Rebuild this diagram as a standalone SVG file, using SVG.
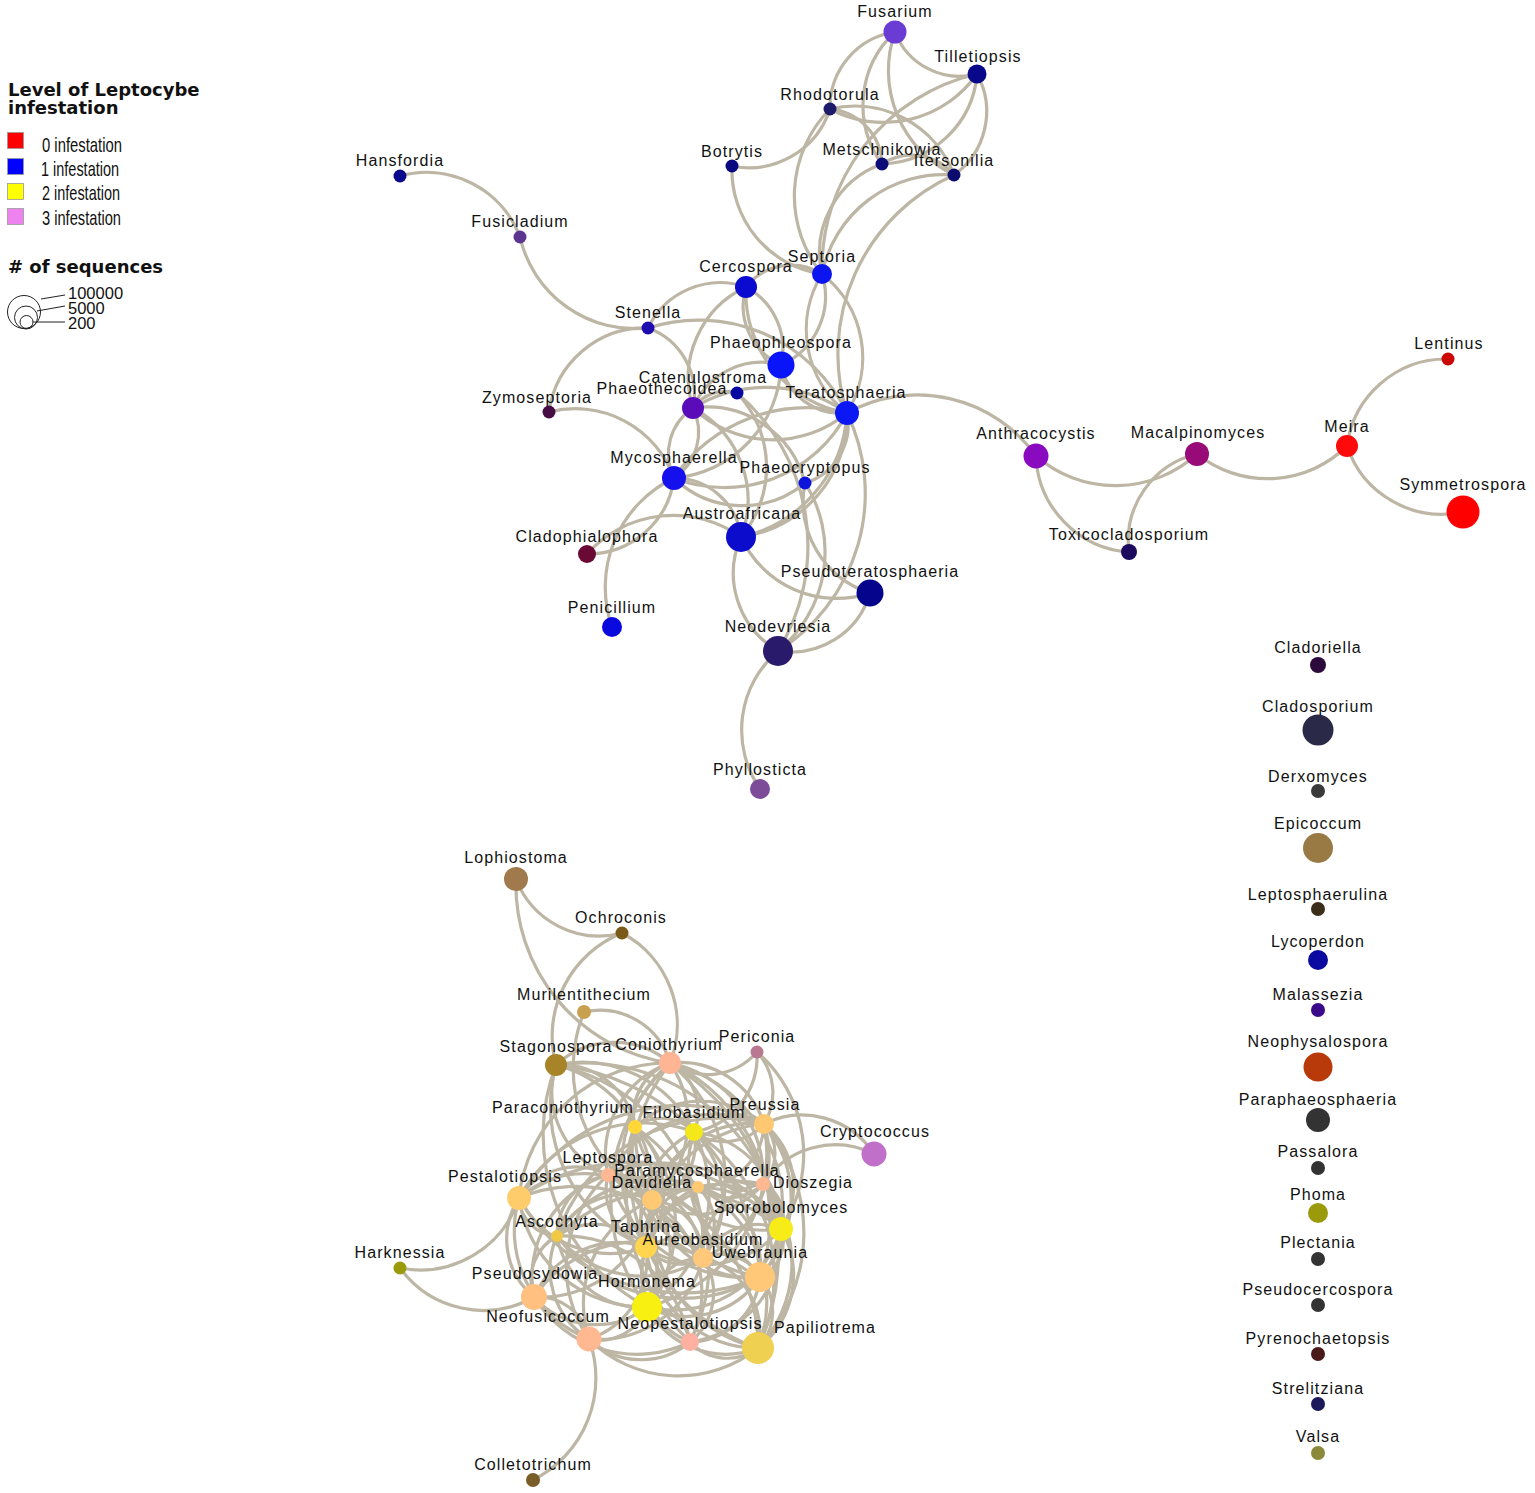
<svg xmlns="http://www.w3.org/2000/svg" width="1535" height="1493" viewBox="0 0 1535 1493">
<style>
.e{fill:none;stroke:#bdb6a4;stroke-width:3.2}
.l{font-family:"Liberation Sans",Arial,sans-serif;font-size:16px;letter-spacing:1.1px;fill:#111;text-anchor:middle}
.h{font-family:"DejaVu Sans",Verdana,sans-serif;font-weight:bold;font-size:18px;fill:#111}
.k{font-family:"Liberation Sans",Arial,sans-serif;font-size:21px;fill:#111}
.s{font-family:"Liberation Sans",Arial,sans-serif;font-size:16.5px;fill:#111}
</style>
<rect width="1535" height="1493" fill="#fff"/>
<g id="legend">
<text class="h" x="8" y="96">Level of Leptocybe</text>
<text class="h" x="8" y="114">infestation</text>
<rect x="7.5" y="132.5" width="16" height="16" fill="#ff0000" stroke="#999" stroke-width="0.8"/>
<rect x="7.5" y="158.5" width="16" height="16" fill="#0000ff" stroke="#999" stroke-width="0.8"/>
<rect x="7.5" y="183.5" width="16" height="16" fill="#ffff00" stroke="#999" stroke-width="0.8"/>
<rect x="7.5" y="208.5" width="16" height="16" fill="#ee82ee" stroke="#999" stroke-width="0.8"/>
<text class="k" x="42" y="152" textLength="80" lengthAdjust="spacingAndGlyphs">0 infestation</text>
<text class="k" x="41" y="176" textLength="78" lengthAdjust="spacingAndGlyphs">1 infestation</text>
<text class="k" x="42" y="200" textLength="78" lengthAdjust="spacingAndGlyphs">2 infestation</text>
<text class="k" x="42" y="225" textLength="79" lengthAdjust="spacingAndGlyphs">3 infestation</text>
<text class="h" x="8" y="273">#  of sequences</text>
<g fill="none" stroke="#222" stroke-width="1">
<circle cx="24" cy="312" r="16.5"/>
<circle cx="26" cy="317.5" r="11.5"/>
<circle cx="26.5" cy="322" r="6.5"/>
<path d="M41 299L65 295M37 311L65 306M33 322L65 322"/>
</g>
<text class="s" x="68" y="299">100000</text>
<text class="s" x="68" y="314">5000</text>
<text class="s" x="68" y="329">200</text>
</g>
<g id="edges" class="e">
<path d="M400 176A100 100 0 0 1 520 237"/>
<path d="M520 237A118 118 0 0 0 648 328"/>
<path d="M648 328A97 97 0 0 0 549 412"/>
<path d="M648 328A80 80 0 0 1 746 287"/>
<path d="M648 328A165 165 0 0 1 847 413"/>
<path d="M648 328A70 70 0 0 1 693 408"/>
<path d="M549 412A105 105 0 0 1 674 478"/>
<path d="M732 166A85 85 0 0 0 830 109"/>
<path d="M732 166A105 105 0 0 0 822 274"/>
<path d="M895 32A76 76 0 0 0 830 109"/>
<path d="M830 109A124 124 0 0 0 822 274"/>
<path d="M895 32A100 100 0 0 0 882 164"/>
<path d="M895 32A116 116 0 0 0 954 175"/>
<path d="M895 32A69 69 0 0 0 977 74"/>
<path d="M830 109A114 114 0 0 0 977 74"/>
<path d="M830 109A106 106 0 0 1 954 175"/>
<path d="M830 109A57 57 0 0 1 882 164"/>
<path d="M977 74A98 98 0 0 1 882 164"/>
<path d="M977 74A78 78 0 0 1 954 175"/>
<path d="M882 164A55 55 0 0 1 954 175"/>
<path d="M882 164A94 94 0 0 0 822 274"/>
<path d="M954 175A124 124 0 0 0 822 274"/>
<path d="M954 175A196 196 0 0 0 847 413"/>
<path d="M977 74A200 200 0 0 0 822 274"/>
<path d="M822 274A58 58 0 0 0 746 287"/>
<path d="M822 274A75 75 0 0 1 781 365"/>
<path d="M822 274A106 106 0 0 1 847 413"/>
<path d="M822 274A106 106 0 0 0 847 413"/>
<path d="M746 287A65 65 0 0 0 781 365"/>
<path d="M746 287A70 70 0 0 1 781 365"/>
<path d="M746 287A122 122 0 0 0 847 413"/>
<path d="M746 287A100 100 0 0 0 693 408"/>
<path d="M781 365A61 61 0 0 0 847 413"/>
<path d="M693 408A74 74 0 0 1 781 365"/>
<path d="M781 365A117 117 0 0 1 674 478"/>
<path d="M737 393A40 40 0 0 0 693 408"/>
<path d="M737 393A108 108 0 0 1 741 537"/>
<path d="M737 393A200 200 0 0 1 778 651"/>
<path d="M693 408A116 116 0 0 0 847 413"/>
<path d="M693 408A140 140 0 0 1 847 413"/>
<path d="M693 408A55 55 0 0 0 674 478"/>
<path d="M693 408A55 55 0 0 1 674 478"/>
<path d="M693 408A104 104 0 0 1 741 537"/>
<path d="M693 408A101 101 0 0 1 805 483"/>
<path d="M674 478A138 138 0 0 0 847 413"/>
<path d="M674 478A160 160 0 0 1 847 413"/>
<path d="M674 478A67 67 0 0 1 741 537"/>
<path d="M674 478A98 98 0 0 0 805 483"/>
<path d="M847 413A122 122 0 0 1 741 537"/>
<path d="M847 413A135 135 0 0 1 741 537"/>
<path d="M847 413A61 61 0 0 1 805 483"/>
<path d="M847 413A146 146 0 0 1 1036 456"/>
<path d="M847 413A186 186 0 0 1 778 651"/>
<path d="M805 483A96 96 0 0 0 870 593"/>
<path d="M805 483A128 128 0 0 1 778 651"/>
<path d="M741 537A105 105 0 0 0 870 593"/>
<path d="M741 537A90 90 0 0 0 778 651"/>
<path d="M778 651A82 82 0 0 0 870 593"/>
<path d="M778 651A104 104 0 0 0 760 789"/>
<path d="M674 478A87 87 0 0 1 587 554"/>
<path d="M674 478A121 121 0 0 0 612 627"/>
<path d="M587 554A116 116 0 0 1 741 537"/>
<path d="M1036 456A121 121 0 0 0 1197 454"/>
<path d="M1036 456A100 100 0 0 0 1129 552"/>
<path d="M1197 454A89 89 0 0 0 1129 552"/>
<path d="M1197 454A113 113 0 0 0 1347 446"/>
<path d="M1347 446A100 100 0 0 1 1448 359"/>
<path d="M1347 446A100 100 0 0 0 1463 512"/>
<path d="M516 879A89 89 0 0 0 622 933"/>
<path d="M516 879A180 180 0 0 0 670 1063"/>
<path d="M622 933A111 111 0 0 0 556 1065"/>
<path d="M622 933A104 104 0 0 1 670 1063"/>
<path d="M584 1012A150 150 0 0 0 652 1200"/>
<path d="M584 1012A73 73 0 0 1 670 1063"/>
<path d="M556 1065A86 86 0 0 1 670 1063"/>
<path d="M670 1063A66 66 0 0 0 757 1052"/>
<path d="M757 1052A60 60 0 0 1 764 1124"/>
<path d="M757 1052A77 77 0 0 1 694 1132"/>
<path d="M764 1124A86 86 0 0 1 874 1154"/>
<path d="M874 1154A86 86 0 0 0 763 1184"/>
<path d="M400 1268A104 104 0 0 0 519 1198"/>
<path d="M400 1268A103 103 0 0 0 534 1297"/>
<path d="M589 1339A114 114 0 0 1 533 1480"/>
<path d="M519 1198A75 75 0 0 0 534 1297"/>
<path d="M670 1063A55 55 0 0 0 635 1127"/>
<path d="M670 1063A55 55 0 0 1 694 1132"/>
<path d="M670 1063A88 88 0 0 1 764 1124"/>
<path d="M670 1063A96 96 0 0 0 608 1175"/>
<path d="M670 1063A104 104 0 0 1 652 1200"/>
<path d="M670 1063A138 138 0 0 0 646 1247"/>
<path d="M670 1063A150 150 0 0 1 703 1258"/>
<path d="M670 1063A183 183 0 0 0 647 1307"/>
<path d="M670 1063A148 148 0 0 1 781 1229"/>
<path d="M670 1063A172 172 0 0 1 760 1277"/>
<path d="M670 1063A150 150 0 0 0 519 1198"/>
<path d="M670 1063A224 224 0 0 1 758 1348"/>
<path d="M670 1063A116 116 0 0 1 763 1184"/>
<path d="M670 1063A210 210 0 0 0 690 1342"/>
<path d="M556 1065A75 75 0 0 1 635 1127"/>
<path d="M556 1065A128 128 0 0 1 652 1200"/>
<path d="M556 1065A152 152 0 0 0 646 1247"/>
<path d="M556 1065A185 185 0 0 1 703 1258"/>
<path d="M556 1065A195 195 0 0 0 647 1307"/>
<path d="M556 1065A90 90 0 0 0 608 1175"/>
<path d="M556 1065A227 227 0 0 1 760 1277"/>
<path d="M556 1065A125 125 0 0 1 694 1132"/>
<path d="M556 1065A200 200 0 0 1 781 1229"/>
<path d="M757 1052A135 135 0 0 1 781 1229"/>
<path d="M635 1127A45 45 0 0 1 694 1132"/>
<path d="M635 1127A98 98 0 0 1 764 1124"/>
<path d="M635 1127A58 58 0 0 0 652 1200"/>
<path d="M635 1127A91 91 0 0 1 646 1247"/>
<path d="M635 1127A115 115 0 0 0 703 1258"/>
<path d="M635 1127A136 136 0 0 1 647 1307"/>
<path d="M635 1127A150 150 0 0 0 760 1277"/>
<path d="M635 1127A188 188 0 0 0 758 1348"/>
<path d="M635 1127A131 131 0 0 0 781 1229"/>
<path d="M635 1127A166 166 0 0 1 690 1342"/>
<path d="M694 1132A53 53 0 0 0 764 1124"/>
<path d="M694 1132A70 70 0 0 1 608 1175"/>
<path d="M694 1132A58 58 0 0 1 652 1200"/>
<path d="M694 1132A94 94 0 0 0 646 1247"/>
<path d="M694 1132A95 95 0 0 1 703 1258"/>
<path d="M694 1132A98 98 0 0 1 781 1229"/>
<path d="M694 1132A118 118 0 0 0 760 1277"/>
<path d="M694 1132A134 134 0 0 1 647 1307"/>
<path d="M694 1132A169 169 0 0 1 758 1348"/>
<path d="M694 1132A65 65 0 0 0 763 1184"/>
<path d="M694 1132A142 142 0 0 0 519 1198"/>
<path d="M764 1124A65 65 0 0 1 698 1187"/>
<path d="M764 1124A104 104 0 0 0 652 1200"/>
<path d="M764 1124A45 45 0 0 1 763 1184"/>
<path d="M764 1124A80 80 0 0 1 781 1229"/>
<path d="M764 1124A115 115 0 0 1 760 1277"/>
<path d="M764 1124A128 128 0 0 0 646 1247"/>
<path d="M764 1124A110 110 0 0 1 703 1258"/>
<path d="M764 1124A158 158 0 0 1 647 1307"/>
<path d="M764 1124A168 168 0 0 1 758 1348"/>
<path d="M764 1124A190 190 0 0 0 519 1198"/>
<path d="M764 1124A125 125 0 0 0 608 1175"/>
<path d="M764 1124A171 171 0 0 0 557 1236"/>
<path d="M608 1175A68 68 0 0 0 519 1198"/>
<path d="M608 1175A40 40 0 0 1 652 1200"/>
<path d="M608 1175A69 69 0 0 1 698 1187"/>
<path d="M608 1175A61 61 0 0 0 646 1247"/>
<path d="M608 1175A93 93 0 0 1 703 1258"/>
<path d="M608 1175A137 137 0 0 1 781 1229"/>
<path d="M608 1175A145 145 0 0 0 760 1277"/>
<path d="M608 1175A102 102 0 0 1 647 1307"/>
<path d="M608 1175A106 106 0 0 0 534 1297"/>
<path d="M608 1175A61 61 0 0 0 557 1236"/>
<path d="M608 1175A124 124 0 0 0 589 1339"/>
<path d="M608 1175A173 173 0 0 1 758 1348"/>
<path d="M519 1198A40 40 0 0 0 557 1236"/>
<path d="M519 1198A100 100 0 0 1 652 1200"/>
<path d="M519 1198A103 103 0 0 0 646 1247"/>
<path d="M519 1198A116 116 0 0 0 589 1339"/>
<path d="M519 1198A126 126 0 0 0 647 1307"/>
<path d="M519 1198A148 148 0 0 1 703 1258"/>
<path d="M519 1198A190 190 0 0 0 760 1277"/>
<path d="M519 1198A198 198 0 0 1 781 1229"/>
<path d="M652 1200A36 36 0 0 1 698 1187"/>
<path d="M652 1200A84 84 0 0 0 763 1184"/>
<path d="M652 1200A99 99 0 0 1 781 1229"/>
<path d="M652 1200A35 35 0 0 0 646 1247"/>
<path d="M652 1200A58 58 0 0 1 703 1258"/>
<path d="M652 1200A102 102 0 0 0 760 1277"/>
<path d="M652 1200A80 80 0 0 1 647 1307"/>
<path d="M652 1200A75 75 0 0 0 557 1236"/>
<path d="M652 1200A112 112 0 0 1 534 1297"/>
<path d="M652 1200A113 113 0 0 0 589 1339"/>
<path d="M652 1200A110 110 0 0 1 690 1342"/>
<path d="M652 1200A137 137 0 0 0 758 1348"/>
<path d="M698 1187A49 49 0 0 0 763 1184"/>
<path d="M698 1187A69 69 0 0 1 781 1229"/>
<path d="M698 1187A57 57 0 0 0 646 1247"/>
<path d="M698 1187A53 53 0 0 1 703 1258"/>
<path d="M698 1187A82 82 0 0 1 760 1277"/>
<path d="M698 1187A98 98 0 0 0 647 1307"/>
<path d="M698 1187A129 129 0 0 1 758 1348"/>
<path d="M698 1187A118 118 0 0 0 557 1236"/>
<path d="M763 1184A36 36 0 0 1 781 1229"/>
<path d="M763 1184A70 70 0 0 1 760 1277"/>
<path d="M763 1184A123 123 0 0 1 758 1348"/>
<path d="M763 1184A70 70 0 0 0 703 1258"/>
<path d="M763 1184A101 101 0 0 0 646 1247"/>
<path d="M781 1229A38 38 0 0 1 760 1277"/>
<path d="M781 1229A62 62 0 0 0 703 1258"/>
<path d="M781 1229A102 102 0 0 1 646 1247"/>
<path d="M781 1229A112 112 0 0 1 647 1307"/>
<path d="M781 1229A92 92 0 0 1 758 1348"/>
<path d="M781 1229A105 105 0 0 1 690 1342"/>
<path d="M781 1229A168 168 0 0 0 557 1236"/>
<path d="M557 1236A68 68 0 0 1 646 1247"/>
<path d="M557 1236A111 111 0 0 0 703 1258"/>
<path d="M557 1236A86 86 0 0 0 647 1307"/>
<path d="M557 1236A50 50 0 0 0 534 1297"/>
<path d="M557 1236A82 82 0 0 0 589 1339"/>
<path d="M557 1236A155 155 0 0 0 760 1277"/>
<path d="M557 1236A128 128 0 0 1 690 1342"/>
<path d="M646 1247A44 44 0 0 0 703 1258"/>
<path d="M646 1247A88 88 0 0 1 760 1277"/>
<path d="M646 1247A45 45 0 0 1 647 1307"/>
<path d="M646 1247A92 92 0 0 0 534 1297"/>
<path d="M646 1247A84 84 0 0 1 589 1339"/>
<path d="M646 1247A76 76 0 0 0 690 1342"/>
<path d="M646 1247A112 112 0 0 0 758 1348"/>
<path d="M703 1258A45 45 0 0 1 760 1277"/>
<path d="M703 1258A56 56 0 0 0 647 1307"/>
<path d="M703 1258A63 63 0 0 1 690 1342"/>
<path d="M703 1258A76 76 0 0 1 758 1348"/>
<path d="M703 1258A129 129 0 0 0 534 1297"/>
<path d="M703 1258A108 108 0 0 1 589 1339"/>
<path d="M760 1277A88 88 0 0 1 647 1307"/>
<path d="M760 1277A53 53 0 0 1 758 1348"/>
<path d="M760 1277A72 72 0 0 1 690 1342"/>
<path d="M534 1297A83 83 0 0 0 647 1307"/>
<path d="M534 1297A52 52 0 0 1 589 1339"/>
<path d="M534 1297A121 121 0 0 0 690 1342"/>
<path d="M647 1307A50 50 0 0 1 589 1339"/>
<path d="M647 1307A42 42 0 0 1 690 1342"/>
<path d="M647 1307A89 89 0 0 0 758 1348"/>
<path d="M589 1339A76 76 0 0 0 690 1342"/>
<path d="M589 1339A127 127 0 0 0 758 1348"/>
<path d="M690 1342A51 51 0 0 0 758 1348"/>
</g>
<g id="n-Fusarium"><circle cx="895" cy="32" r="11.5" fill="#6a3cd4"/><text class="l" x="895" y="17">Fusarium</text></g>
<g id="n-Tilletiopsis"><circle cx="977" cy="74" r="9.5" fill="#08088a"/><text class="l" x="978" y="62">Tilletiopsis</text></g>
<g id="n-Rhodotorula"><circle cx="830" cy="109" r="6.5" fill="#1c1a6a"/><text class="l" x="830" y="100">Rhodotorula</text></g>
<g id="n-Botrytis"><circle cx="732" cy="166" r="6.5" fill="#0a0a80"/><text class="l" x="732" y="157">Botrytis</text></g>
<g id="n-Metschnikowia"><circle cx="882" cy="164" r="6.5" fill="#0c0c78"/><text class="l" x="882" y="155">Metschnikowia</text></g>
<g id="n-Itersonilia"><circle cx="954" cy="175" r="6.5" fill="#0c0c6e"/><text class="l" x="954" y="166">Itersonilia</text></g>
<g id="n-Hansfordia"><circle cx="400" cy="176" r="6.5" fill="#0a0a8c"/><text class="l" x="400" y="166">Hansfordia</text></g>
<g id="n-Fusicladium"><circle cx="520" cy="237" r="6.5" fill="#5c3590"/><text class="l" x="520" y="227">Fusicladium</text></g>
<g id="n-Stenella"><circle cx="648" cy="328" r="6.5" fill="#1e0cb0"/><text class="l" x="648" y="318">Stenella</text></g>
<g id="n-Septoria"><circle cx="822" cy="274" r="10" fill="#0c14f0"/><text class="l" x="822" y="262">Septoria</text></g>
<g id="n-Cercospora"><circle cx="746" cy="287" r="11" fill="#0a0ad0"/><text class="l" x="746" y="272">Cercospora</text></g>
<g id="n-Phaeophleospora"><circle cx="781" cy="365" r="13.5" fill="#0a14f8"/><text class="l" x="781" y="348">Phaeophleospora</text></g>
<g id="n-Catenulostroma"><circle cx="737" cy="393" r="6.5" fill="#0808a0"/><text class="l" x="703" y="383">Catenulostroma</text></g>
<g id="n-Phaeothecoidea"><circle cx="693" cy="408" r="11" fill="#5a0cba"/><text class="l" x="662" y="394">Phaeothecoidea</text></g>
<g id="n-Teratosphaeria"><circle cx="847" cy="413" r="12" fill="#0c18f4"/><text class="l" x="846" y="398">Teratosphaeria</text></g>
<g id="n-Zymoseptoria"><circle cx="549" cy="412" r="6.5" fill="#480c44"/><text class="l" x="537" y="403">Zymoseptoria</text></g>
<g id="n-Mycosphaerella"><circle cx="674" cy="478" r="12" fill="#1410ee"/><text class="l" x="674" y="463">Mycosphaerella</text></g>
<g id="n-Phaeocryptopus"><circle cx="805" cy="483" r="6.5" fill="#0c14dc"/><text class="l" x="805" y="473">Phaeocryptopus</text></g>
<g id="n-Austroafricana"><circle cx="741" cy="537" r="15" fill="#0c0ccc"/><text class="l" x="742" y="519">Austroafricana</text></g>
<g id="n-Cladophialophora"><circle cx="587" cy="554" r="9" fill="#6a0a34"/><text class="l" x="587" y="542">Cladophialophora</text></g>
<g id="n-Pseudoteratosphaeria"><circle cx="870" cy="593" r="13.5" fill="#04048c"/><text class="l" x="870" y="577">Pseudoteratosphaeria</text></g>
<g id="n-Penicillium"><circle cx="612" cy="627" r="10" fill="#0a0ade"/><text class="l" x="612" y="613">Penicillium</text></g>
<g id="n-Neodevriesia"><circle cx="778" cy="651" r="15" fill="#2a1a6c"/><text class="l" x="778" y="632">Neodevriesia</text></g>
<g id="n-Phyllosticta"><circle cx="760" cy="789" r="10" fill="#7c4c98"/><text class="l" x="760" y="775">Phyllosticta</text></g>
<g id="n-Anthracocystis"><circle cx="1036" cy="456" r="12.5" fill="#8a0ac0"/><text class="l" x="1036" y="439">Anthracocystis</text></g>
<g id="n-Macalpinomyces"><circle cx="1197" cy="454" r="12" fill="#980a78"/><text class="l" x="1198" y="438">Macalpinomyces</text></g>
<g id="n-Meira"><circle cx="1347" cy="446" r="11" fill="#ff0a0a"/><text class="l" x="1347" y="432">Meira</text></g>
<g id="n-Lentinus"><circle cx="1448" cy="359" r="6.5" fill="#cc0606"/><text class="l" x="1449" y="349">Lentinus</text></g>
<g id="n-Symmetrospora"><circle cx="1463" cy="512" r="16.5" fill="#ff0000"/><text class="l" x="1463" y="490">Symmetrospora</text></g>
<g id="n-Toxicocladosporium"><circle cx="1129" cy="552" r="8" fill="#1c0a5e"/><text class="l" x="1129" y="540">Toxicocladosporium</text></g>
<g id="n-Lophiostoma"><circle cx="516" cy="879" r="12" fill="#a07a4c"/><text class="l" x="516" y="863">Lophiostoma</text></g>
<g id="n-Ochroconis"><circle cx="622" cy="933" r="6.5" fill="#7a5a16"/><text class="l" x="621" y="923">Ochroconis</text></g>
<g id="n-Murilentithecium"><circle cx="584" cy="1012" r="7" fill="#c8a050"/><text class="l" x="584" y="1000">Murilentithecium</text></g>
<g id="n-Stagonospora"><circle cx="556" cy="1065" r="11" fill="#a88428"/><text class="l" x="556" y="1052">Stagonospora</text></g>
<g id="n-Coniothyrium"><circle cx="670" cy="1063" r="11" fill="#ffb494"/><text class="l" x="669" y="1050">Coniothyrium</text></g>
<g id="n-Periconia"><circle cx="757" cy="1052" r="6.5" fill="#b87890"/><text class="l" x="757" y="1042">Periconia</text></g>
<g id="n-Paraconiothyrium"><circle cx="635" cy="1127" r="7" fill="#ffd838"/><text class="l" x="563" y="1113">Paraconiothyrium</text></g>
<g id="n-Filobasidium"><circle cx="694" cy="1132" r="9" fill="#f4e81a"/><text class="l" x="694" y="1118">Filobasidium</text></g>
<g id="n-Preussia"><circle cx="764" cy="1124" r="10" fill="#ffc870"/><text class="l" x="765" y="1110">Preussia</text></g>
<g id="n-Cryptococcus"><circle cx="874" cy="1154" r="12.5" fill="#c070c8"/><text class="l" x="875" y="1137">Cryptococcus</text></g>
<g id="n-Leptospora"><circle cx="608" cy="1175" r="7" fill="#ffb892"/><text class="l" x="608" y="1163">Leptospora</text></g>
<g id="n-Paramycosphaerella"><circle cx="698" cy="1187" r="6" fill="#ffc872"/><text class="l" x="697" y="1176">Paramycosphaerella</text></g>
<g id="n-Pestalotiopsis"><circle cx="519" cy="1198" r="12" fill="#ffcc6c"/><text class="l" x="505" y="1182">Pestalotiopsis</text></g>
<g id="n-Davidiella"><circle cx="652" cy="1200" r="10" fill="#ffc872"/><text class="l" x="652" y="1188">Davidiella</text></g>
<g id="n-Dioszegia"><circle cx="763" cy="1184" r="7" fill="#ffb892"/><text class="l" x="813" y="1188">Dioszegia</text></g>
<g id="n-Sporobolomyces"><circle cx="781" cy="1229" r="12" fill="#f8ec18"/><text class="l" x="781" y="1213">Sporobolomyces</text></g>
<g id="n-Ascochyta"><circle cx="557" cy="1236" r="6" fill="#f0c844"/><text class="l" x="557" y="1227">Ascochyta</text></g>
<g id="n-Taphrina"><circle cx="646" cy="1247" r="11" fill="#ffd44e"/><text class="l" x="646" y="1232">Taphrina</text></g>
<g id="n-Aureobasidium"><circle cx="703" cy="1258" r="10" fill="#ffc87a"/><text class="l" x="703" y="1245">Aureobasidium</text></g>
<g id="n-Uwebraunia"><circle cx="760" cy="1277" r="15" fill="#ffc878"/><text class="l" x="760" y="1258">Uwebraunia</text></g>
<g id="n-Harknessia"><circle cx="400" cy="1268" r="6.5" fill="#9a9a0a"/><text class="l" x="400" y="1258">Harknessia</text></g>
<g id="n-Pseudosydowia"><circle cx="534" cy="1297" r="13" fill="#ffc080"/><text class="l" x="535" y="1279">Pseudosydowia</text></g>
<g id="n-Hormonema"><circle cx="647" cy="1307" r="15" fill="#f8f010"/><text class="l" x="647" y="1287">Hormonema</text></g>
<g id="n-Neofusicoccum"><circle cx="589" cy="1339" r="12.5" fill="#ffb890"/><text class="l" x="548" y="1322">Neofusicoccum</text></g>
<g id="n-Neopestalotiopsis"><circle cx="690" cy="1342" r="9" fill="#ffb0a0"/><text class="l" x="690" y="1329">Neopestalotiopsis</text></g>
<g id="n-Papiliotrema"><circle cx="758" cy="1348" r="16" fill="#f0d050"/><text class="l" x="825" y="1333">Papiliotrema</text></g>
<g id="n-Colletotrichum"><circle cx="533" cy="1480" r="7" fill="#7a5e2a"/><text class="l" x="533" y="1470">Colletotrichum</text></g>
<g id="n-Cladoriella"><circle cx="1318" cy="665" r="8" fill="#2c0a3c"/><text class="l" x="1318" y="653">Cladoriella</text></g>
<g id="n-Cladosporium"><circle cx="1318" cy="730" r="15.5" fill="#2a2a48"/><text class="l" x="1318" y="712">Cladosporium</text></g>
<g id="n-Derxomyces"><circle cx="1318" cy="791" r="7" fill="#3a3a3a"/><text class="l" x="1318" y="782">Derxomyces</text></g>
<g id="n-Epicoccum"><circle cx="1318" cy="848" r="15" fill="#9a7a44"/><text class="l" x="1318" y="829">Epicoccum</text></g>
<g id="n-Leptosphaerulina"><circle cx="1318" cy="909" r="7" fill="#3a2e1a"/><text class="l" x="1318" y="900">Leptosphaerulina</text></g>
<g id="n-Lycoperdon"><circle cx="1318" cy="960" r="10" fill="#0a0aa0"/><text class="l" x="1318" y="947">Lycoperdon</text></g>
<g id="n-Malassezia"><circle cx="1318" cy="1010" r="7" fill="#3a0a8a"/><text class="l" x="1318" y="1000">Malassezia</text></g>
<g id="n-Neophysalospora"><circle cx="1318" cy="1067" r="14.5" fill="#b83a0a"/><text class="l" x="1318" y="1047">Neophysalospora</text></g>
<g id="n-Paraphaeosphaeria"><circle cx="1318" cy="1120" r="12" fill="#333"/><text class="l" x="1318" y="1105">Paraphaeosphaeria</text></g>
<g id="n-Passalora"><circle cx="1318" cy="1168" r="7" fill="#333"/><text class="l" x="1318" y="1157">Passalora</text></g>
<g id="n-Phoma"><circle cx="1318" cy="1213" r="10" fill="#9a9a0a"/><text class="l" x="1318" y="1200">Phoma</text></g>
<g id="n-Plectania"><circle cx="1318" cy="1259" r="7" fill="#333"/><text class="l" x="1318" y="1248">Plectania</text></g>
<g id="n-Pseudocercospora"><circle cx="1318" cy="1305" r="7" fill="#333"/><text class="l" x="1318" y="1295">Pseudocercospora</text></g>
<g id="n-Pyrenochaetopsis"><circle cx="1318" cy="1354" r="7" fill="#4a1a1a"/><text class="l" x="1318" y="1344">Pyrenochaetopsis</text></g>
<g id="n-Strelitziana"><circle cx="1318" cy="1404" r="7" fill="#1c1a5a"/><text class="l" x="1318" y="1394">Strelitziana</text></g>
<g id="n-Valsa"><circle cx="1318" cy="1453" r="7" fill="#8a8a3a"/><text class="l" x="1318" y="1442">Valsa</text></g>
</svg>
